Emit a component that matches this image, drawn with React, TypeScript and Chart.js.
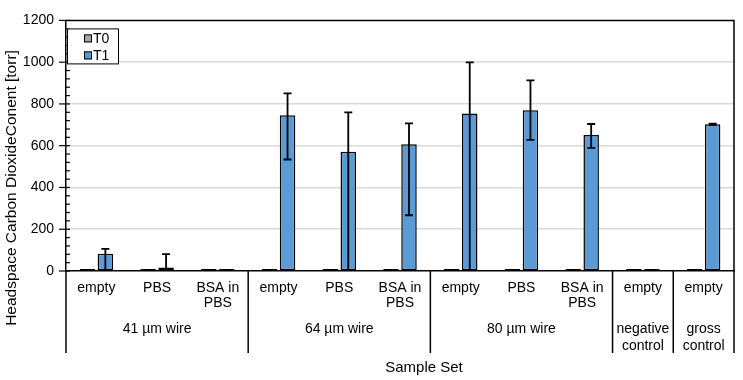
import React, { useEffect, useRef } from "react";
import { Chart, registerables } from "chart.js";

Chart.register(...registerables);

const categories: string[][] = [
  ["empty"], ["PBS"], ["BSA in", "PBS"],
  ["empty"], ["PBS"], ["BSA in", "PBS"],
  ["empty"], ["PBS"], ["BSA in", "PBS"],
  ["empty"],
  ["empty"],
];
const groupLabels: string[][] = [
  ["41 µm wire"], ["64 µm wire"], ["80 µm wire"], ["negative", "control"], ["gross", "control"],
];
const groupSizes: number[] = [3, 3, 3, 1, 1];

const t0Values: number[] = [10, 10, 10, 10, 10, 10, 10, 10, 10, 10, 10];
const t1Values: number[] = [83, 17, 10, 746, 571, 607, 754, 770, 651, 10, 703];
const t1ErrHigh: number[] = [106, 81, 10, 851, 760, 707, 999, 913, 704, 10, 706];
const t1ErrLow: number[] = [0, 0, 10, 534, 0, 267, 0, 628, 590, 10, 700];

const yTicks: number[] = [0, 200, 400, 600, 800, 1000, 1200];

const FONT = "'Liberation Sans', Arial, sans-serif";

const customPlugin = {
  id: "custom",
  afterDatasetsDraw(chart: any) {
    const { ctx, chartArea, scales } = chart;
    const y = scales.y;
    const x = scales.x;
    ctx.save();
    // error bars
    const meta = chart.getDatasetMeta(1);
    ctx.strokeStyle = "#000";
    ctx.lineWidth = 1.8;
    meta.data.forEach((bar: any, i: number) => {
      const hi = t1ErrHigh[i];
      const lo = t1ErrLow[i];
      if (hi - lo < 1) return;
      const px = bar.x;
      const yHi = y.getPixelForValue(hi);
      const yLo = y.getPixelForValue(Math.max(lo, 0));
      ctx.beginPath();
      ctx.moveTo(px, yHi);
      ctx.lineTo(px, yLo);
      ctx.moveTo(px - 4, yHi);
      ctx.lineTo(px + 4, yHi);
      if (lo > 0) {
        ctx.moveTo(px - 4, yLo);
        ctx.lineTo(px + 4, yLo);
      }
      ctx.stroke();
    });
    ctx.lineWidth = 1.5;
    // top and right border
    ctx.beginPath();
    ctx.moveTo(chartArea.left, chartArea.top);
    ctx.lineTo(chartArea.right, chartArea.top);
    ctx.lineTo(chartArea.right, chartArea.bottom);
    ctx.stroke();
    // y ticks
    ctx.lineWidth = 1.2;
    for (let v = 0; v <= 1200; v += 40) {
      const py = y.getPixelForValue(v);
      ctx.beginPath();
      if (v % 200 === 0) {
        ctx.moveTo(chartArea.left - 7, py);
        ctx.lineTo(chartArea.left + 4, py);
      } else {
        ctx.moveTo(chartArea.left, py);
        ctx.lineTo(chartArea.left + 4, py);
      }
      ctx.stroke();
    }
    // x dividers
    const n = categories.length;
    const catW = (chartArea.right - chartArea.left) / n;
    const divBottom = 353;
    ctx.lineWidth = 1.5;
    let k = 0;
    const bounds = [0];
    groupSizes.forEach((s) => {
      k += s;
      bounds.push(k);
    });
    bounds.forEach((b) => {
      const px = chartArea.left + b * catW;
      ctx.beginPath();
      ctx.moveTo(px, chartArea.bottom);
      ctx.lineTo(px, divBottom);
      ctx.stroke();
    });
    // category labels
    ctx.fillStyle = "#000";
    ctx.font = `14px ${FONT}`;
    ctx.textAlign = "center";
    ctx.textBaseline = "middle";
    categories.forEach((lines, i) => {
      const px = x.getPixelForValue(i);
      lines.forEach((ln, j) => ctx.fillText(ln, px, 288 + j * 15.5));
    });
    // group labels
    groupLabels.forEach((lines, gi) => {
      const cx = chartArea.left + ((bounds[gi] + bounds[gi + 1]) / 2) * catW;
      lines.forEach((ln, j) => ctx.fillText(ln, cx, 329 + j * 17));
    });
    // axis titles
    ctx.font = `15px ${FONT}`;
    ctx.fillText("Sample Set", 424, 368);
    ctx.save();
    ctx.translate(12, 188);
    ctx.rotate(-Math.PI / 2);
    ctx.font = `15.5px ${FONT}`;
    ctx.fillText("Headspace Carbon DioxideConent [torr]", 0, 0);
    ctx.restore();
    // legend
    ctx.font = `14px ${FONT}`;
    const lx = chartArea.left + 1;
    const ly = chartArea.top + 8;
    ctx.fillStyle = "#fff";
    ctx.fillRect(lx, ly, 51, 35);
    ctx.strokeStyle = "#000";
    ctx.lineWidth = 1;
    ctx.strokeRect(lx + 0.5, ly + 0.5, 51, 35);
    chart.data.datasets.forEach((ds: any, i: number) => {
      const cy = ly + 10 + i * 17;
      ctx.fillStyle = ds.backgroundColor;
      ctx.fillRect(lx + 17, cy - 4, 8, 8);
      ctx.strokeRect(lx + 17.5, cy - 3.5, 7, 7);
      ctx.fillStyle = "#000";
      ctx.textAlign = "left";
      ctx.fillText(ds.label, lx + 26, cy + 1);
    });
    ctx.restore();
  },
};

export default function App() {
  const ref = useRef<HTMLCanvasElement | null>(null);
  useEffect(() => {
    if (!ref.current) return;
    Chart.defaults.font.family = FONT;
    const chart = new Chart(ref.current, {
      type: "bar",
      data: {
        labels: categories.map((c) => c.join(" ")),
        datasets: [
          {
            label: "T0",
            data: t0Values,
            backgroundColor: "#a6a6a6",
            borderColor: "#000",
            borderWidth: 1.5,
            borderSkipped: false,
            categoryPercentage: 0.593,
            barPercentage: 0.86,
          },
          {
            label: "T1",
            data: t1Values,
            backgroundColor: "#5b9bd5",
            borderColor: "#000",
            borderWidth: 1.5,
            borderSkipped: false,
            categoryPercentage: 0.593,
            barPercentage: 0.86,
          },
        ],
      },
      options: {
        responsive: false,
        animation: false,
        layout: { padding: { top: 15, right: 9, left: 0, bottom: 0 } },
        plugins: { legend: { display: false }, tooltip: { enabled: false } },
        scales: {
          x: {
            ticks: { display: false },
            grid: { display: false },
            border: { display: true, color: "#000", width: 1.5 },
            afterFit: (s: any) => {
              s.height = 109;
            },
          },
          y: {
            min: 0,
            max: 1200,
            afterBuildTicks: (s: any) => {
              s.ticks = yTicks.map((v) => ({ value: v }));
            },
            ticks: {
              color: "#000",
              font: { size: 14, family: FONT },
              padding: 12,
              callback: (v: any) => String(v),
            },
            grid: {
              drawTicks: false,
              color: (c: any) =>
                c.tick && (c.tick.value === 0 || c.tick.value === 1200) ? "rgba(0,0,0,0)" : "#d9d9d9",
              lineWidth: 1.5,
            },
            border: { display: true, color: "#000", width: 1.5 },
            afterFit: (s: any) => {
              s.width = 66;
            },
          },
        },
      },
      plugins: [customPlugin],
    });
    return () => chart.destroy();
  }, []);
  return (
    <div style={{ position: "absolute", left: 0, top: 0, width: 743, height: 380 }}>
      <canvas ref={ref} width={743} height={380} style={{ display: "block" }} />
    </div>
  );
}
